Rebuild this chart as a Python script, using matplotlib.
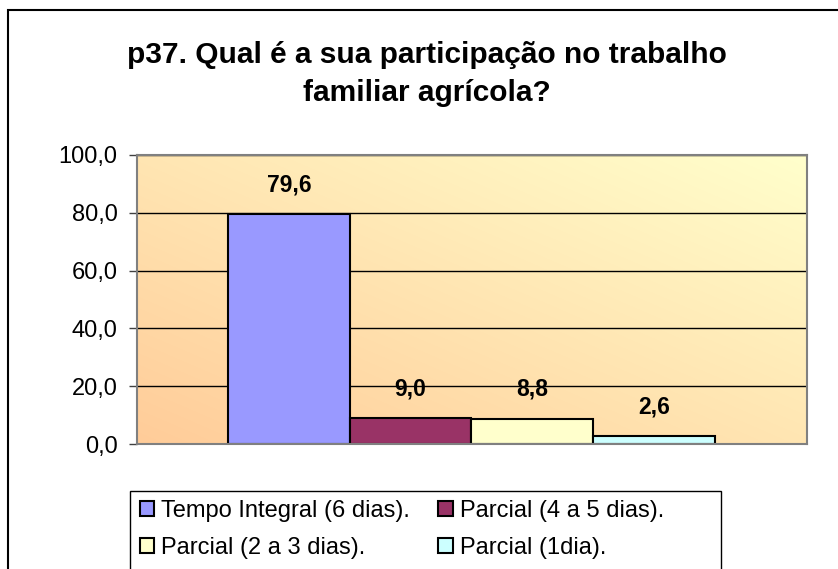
import numpy as np
import matplotlib
matplotlib.use("Agg")
import matplotlib.pyplot as plt
from matplotlib.patches import Rectangle
from matplotlib.ticker import FuncFormatter, MultipleLocator

plt.rcParams["font.family"] = ["Liberation Sans", "DejaVu Sans"]

TITLE = "p37. Qual é a sua participação no trabalho\nfamiliar agrícola?"
CATEGORIES = ["Tempo Integral (6 dias).", "Parcial (4 a 5 dias).",
              "Parcial (2 a 3 dias).", "Parcial (1dia)."]
VALUES = [79.6, 9.0, 8.8, 2.6]
COLORS = ["#9999FF", "#993366", "#FFFFCC", "#CCFFFF"]

W, H = 838, 569
fig = plt.figure(figsize=(W / 100, H / 100), dpi=100)
ax = fig.add_axes([137 / W, 1 - 444 / H, (807 - 137) / W, (444 - 155) / H])

# diagonal gradient background, peach bottom-left -> pale yellow top-right
n = 200
gx, gy = np.meshgrid(np.linspace(0, 1, n), np.linspace(0, 1, n))
t = (gx + gy) / 2
c0 = np.array([1.0, 0.80, 0.60])
c1 = np.array([1.0, 1.0, 0.80])
grad = c0 + (c1 - c0) * t[..., None]
ax.imshow(grad, extent=[0, 1, 0, 1], transform=ax.transAxes, origin="lower",
          aspect="auto", zorder=0, interpolation="bilinear")

x = np.arange(len(VALUES))
bars = []
for i, (v, c) in enumerate(zip(VALUES, COLORS)):
    b = ax.bar(x[i], v, width=1.0, color=c, edgecolor="black", linewidth=1.5,
               zorder=2)
    bars.append(b)
    ax.annotate(f"{v:.1f}".replace(".", ","), (x[i], v), xytext=(0, 21),
                textcoords="offset points", ha="center", va="center",
                fontsize=16.5, fontweight="bold")

ax.set_xlim(-1.247, 4.256)
ax.set_ylim(0, 100)
ax.yaxis.set_major_locator(MultipleLocator(20))
ax.yaxis.set_major_formatter(FuncFormatter(lambda v, p: f"{v:.1f}".replace(".", ",")))
ax.set_xticks([])
ax.yaxis.grid(True, color="black", linewidth=1)
ax.set_axisbelow(True)
ax.tick_params(axis="y", direction="out", length=6, width=1, color="#404040",
               pad=8, labelsize=17)
for s in ax.spines.values():
    s.set_color("#808080")
    s.set_linewidth(1.5)

fig.text(427 / W, 1 - 74 / H, TITLE, ha="center", va="center",
         fontsize=21.5, fontweight="bold", linespacing=1.42)

order = [0, 2, 1, 3]
fig.legend([bars[i] for i in order], [CATEGORIES[i] for i in order], ncol=2,
           loc="upper left", bbox_to_anchor=(140 / W, 1 - 500 / H),
           frameon=False, fontsize=17, handlelength=0.6, handleheight=0.6,
           handletextpad=0.3, columnspacing=1.2, labelspacing=0.63,
           borderpad=0, borderaxespad=0)

fig.patches.append(Rectangle((130 / W, -0.1), (721 - 130) / W, 1 - 491 / H + 0.1,
                             transform=fig.transFigure, fill=False,
                             edgecolor="black", linewidth=1))
fig.patches.append(Rectangle((8 / W, -0.1), 1.2, 1 - 10 / H + 0.1,
                             transform=fig.transFigure, fill=False,
                             edgecolor="black", linewidth=1.5))

fig.savefig("out.png", dpi=100)
